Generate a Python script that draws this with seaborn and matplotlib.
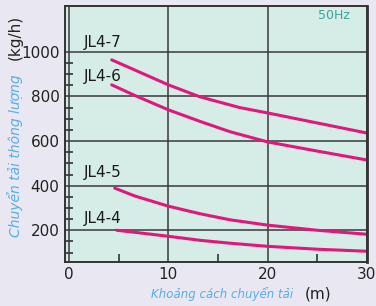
import numpy as np
import pandas as pd
import seaborn as sns
import matplotlib.pyplot as plt
from matplotlib.ticker import FixedLocator

# valores (distancia en m, caudal en kg/h)
modelos = ["JL4-7", "JL4-6", "JL4-5", "JL4-4"]
dist_7 = [4.3, 6.6, 10, 13.2, 17.2, 20, 25, 30]
caudal_7 = [964, 919, 852, 798, 750, 726, 681, 636]
dist_6 = [4.3, 6.6, 10, 13.2, 16.2, 20, 25, 30]
caudal_6 = [852, 805, 740, 688, 642, 596, 555, 515]
dist_5 = [4.6, 6.6, 10, 13.2, 16.2, 20, 25, 30]
caudal_5 = [389, 354, 308, 274, 247, 223, 200, 182]
dist_4 = [4.8, 6.6, 10, 13.2, 16.2, 20, 25, 30]
caudal_4 = [200, 191, 173, 155, 142, 128, 115, 106]
etiqueta_y = [1040, 889, 458, 253]

filas = []
for m, xs, ys in zip(modelos, [dist_7, dist_6, dist_5, dist_4],
                     [caudal_7, caudal_6, caudal_5, caudal_4]):
    for x, y in zip(xs, ys):
        filas.append({"modelo": m, "dist": x, "caudal": y})
df = pd.DataFrame(filas)

sns.set_style("white")
plt.rcParams["font.family"] = ["DejaVu Sans"]

fig = plt.figure(figsize=(3.76, 3.06), dpi=100, facecolor="#e9e7f1")
ax = fig.add_axes([0.173, 0.144, 0.803, 0.836])
ax.set_facecolor("#d6ece7")

sns.lineplot(data=df, x="dist", y="caudal", units="modelo", estimator=None,
             color="#e0187c", lw=2.2, ax=ax, legend=False)

ax.set_xlim(-0.4, 30)
ax.set_ylim(58, 1205)
ax.set_xticks([0, 10, 20, 30])
ax.set_yticks([200, 400, 600, 800, 1000])
ax.xaxis.set_minor_locator(FixedLocator([5, 15, 25]))
menores_y = [v for v in range(100, 1000, 50) if v % 200 != 0]
ax.yaxis.set_minor_locator(FixedLocator(menores_y))
ax.tick_params(axis="both", which="major", length=0, labelsize=11,
               colors="#222222", pad=4)
ax.tick_params(axis="y", which="minor", direction="in", length=6,
               width=1.2, color="#333333", left=True)
ax.tick_params(axis="x", which="minor", direction="in", length=6,
               width=1.2, color="#333333", bottom=True)
ax.grid(True, which="major", color="#3a3a3a", lw=1.1)
for s in ax.spines.values():
    s.set_color("#333333")
    s.set_linewidth(1.4)
ax.spines["right"].set_linewidth(2)
ax.set_xlabel("")
ax.set_ylabel("")

for m, yv in zip(modelos, etiqueta_y):
    ax.text(1.5, yv, m, fontsize=11, color="#1a1a1a", va="center")
ax.text(28.3, 1165, "50Hz", fontsize=9, color="#3aa59a", ha="right", va="center")

# titulos de ejes con dos colores
fig.text(0.04, 0.225, "Chuyển tải thông lượng", rotation=90, fontsize=10,
         style="italic", color="#56aee6", ha="center", va="bottom")
fig.text(0.04, 0.805, "(kg/h)", rotation=90, fontsize=11,
         color="#222222", ha="center", va="bottom")
fig.text(0.402, 0.039, "Khoảng cách chuyển tải", fontsize=8.5,
         style="italic", color="#56aee6", ha="left", va="center")
fig.text(0.81, 0.039, "(m)", fontsize=11, color="#222222",
         ha="left", va="center")

fig.savefig("out.png", dpi=100, facecolor=fig.get_facecolor())
